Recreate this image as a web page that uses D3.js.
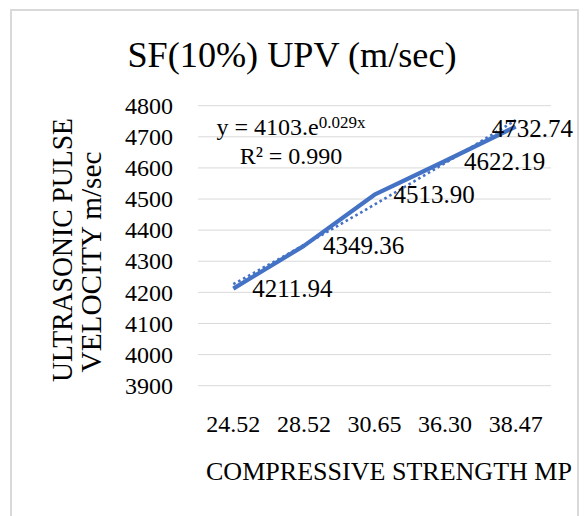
<!DOCTYPE html>
<html>
<head>
<meta charset="utf-8">
<script src="https://cdn.jsdelivr.net/npm/d3@7"></script>
<style>
  body { margin: 0; background: #fff; }
  text { font-family: "Liberation Serif", "Times New Roman", serif; fill: #000; }
</style>
</head>
<body>
<div id="chart"></div>
<script>
// chart values
var categories = ["24.52", "28.52", "30.65", "36.30", "38.47"];
var upv = [4211.94, 4349.36, 4513.90, 4622.19, 4732.74];
var yTicks = [3900, 4000, 4100, 4200, 4300, 4400, 4500, 4600, 4700, 4800];
var title = "SF(10%) UPV (m/sec)";
var xTitle = "COMPRESSIVE STRENGTH MP";
var yTitle = ["ULTRASONIC PULSE", "VELOCITY m/sec"];

var width = 584, height = 516;
var blue = "#4472C4";
var grid = "#d9d9d9";

var svg = d3.select("#chart").append("svg")
    .attr("width", width)
    .attr("height", height);

// chart area border
svg.append("rect")
    .attr("x", 11).attr("y", 10)
    .attr("width", 567).attr("height", 520)
    .attr("fill", "#fff")
    .attr("stroke", grid)
    .attr("stroke-width", 2);

var x = d3.scaleBand().domain(categories).range([198, 551]);
var y = d3.scaleLinear().domain([3900, 4800]).range([385.7, 105.7]);
var cx = function (c) { return x(c) + x.bandwidth() / 2; };

// gridlines
svg.append("g")
    .selectAll("line")
    .data(yTicks)
    .enter().append("line")
    .attr("x1", 198).attr("x2", 551)
    .attr("y1", function (d) { return y(d); })
    .attr("y2", function (d) { return y(d); })
    .attr("stroke", grid)
    .attr("stroke-width", 1);

// y axis labels
var yAxis = svg.append("g")
    .attr("transform", "translate(198,0)")
    .call(d3.axisLeft(y).tickValues(yTicks).tickSize(0).tickPadding(25).tickFormat(d3.format("d")));
yAxis.select(".domain").remove();
yAxis.selectAll("text")
    .style("font-family", "Liberation Serif")
    .style("font-size", "24px")
    .attr("fill", "#000");

// x axis labels
var xAxis = svg.append("g")
    .attr("transform", "translate(0,385.7)")
    .call(d3.axisBottom(x).tickSize(0).tickPadding(29));
xAxis.select(".domain").remove();
xAxis.selectAll("text")
    .style("font-family", "Liberation Serif")
    .style("font-size", "24px")
    .attr("fill", "#000");

// exponential trendline, least squares on ln(y) with x = 1..n
var n = upv.length;
var xs = d3.range(1, n + 1);
var lnY = upv.map(function (v) { return Math.log(v); });
var mx = d3.mean(xs), my = d3.mean(lnY);
var b = d3.sum(xs, function (v, i) { return (v - mx) * (lnY[i] - my); }) /
        d3.sum(xs, function (v) { return (v - mx) * (v - mx); });
var a = Math.exp(my - b * mx);
var trendX = d3.scaleLinear().domain([1, n]).range([cx(categories[0]), cx(categories[n - 1])]);
var trendPts = d3.range(1, n + 0.001, 0.05).map(function (t) { return [trendX(t), y(a * Math.exp(b * t))]; });

svg.append("path")
    .datum(trendPts)
    .attr("d", d3.line())
    .attr("fill", "none")
    .attr("stroke", blue)
    .attr("stroke-width", 2.6)
    .attr("stroke-dasharray", "2.6,3");

// main series
var line = d3.line()
    .x(function (d, i) { return cx(categories[i]); })
    .y(function (d) { return y(d); });

svg.append("path")
    .datum(upv)
    .attr("d", line)
    .attr("fill", "none")
    .attr("stroke", blue)
    .attr("stroke-width", 4.2)
    .attr("stroke-linejoin", "round");

// data labels
svg.append("g")
    .selectAll("text")
    .data(upv)
    .enter().append("text")
    .attr("x", function (d, i) { return cx(categories[i]) + (i === n - 1 ? -24 : 19); })
    .attr("y", function (d, i) { return y(d) + (i === n - 1 ? 10.5 : 8.5); })
    .style("font-size", "25px")
    .text(function (d) { return d3.format(".2f")(d); });

// trendline equation
var eq = svg.append("text")
    .attr("x", 291).attr("y", 135)
    .attr("text-anchor", "middle")
    .style("font-size", "24px");
eq.append("tspan").text("y = 4103.e");
eq.append("tspan").attr("dy", -7).style("font-size", "17px").text("0.029x");

svg.append("text")
    .attr("x", 291).attr("y", 164)
    .attr("text-anchor", "middle")
    .style("font-size", "24px")
    .text("R\u00b2 = 0.990");

// title
svg.append("text")
    .attr("x", 292).attr("y", 66.5)
    .attr("text-anchor", "middle")
    .attr("textLength", 329)
    .attr("lengthAdjust", "spacingAndGlyphs")
    .style("font-size", "36px")
    .text(title);

// x axis title
svg.append("text")
    .attr("x", 206).attr("y", 480)
    .attr("textLength", 366)
    .attr("lengthAdjust", "spacingAndGlyphs")
    .style("font-size", "26px")
    .text(xTitle);

// y axis title (two lines)
var yLens = [264, 221];
var yBase = [[72, 250], [101, 262]];
yTitle.forEach(function (t, i) {
    svg.append("text")
        .attr("transform", "translate(" + yBase[i][0] + "," + yBase[i][1] + ") rotate(-90)")
        .attr("text-anchor", "middle")
        .attr("textLength", yLens[i])
        .attr("lengthAdjust", "spacingAndGlyphs")
        .style("font-size", "29px")
        .text(t);
});
</script>
</body>
</html>
